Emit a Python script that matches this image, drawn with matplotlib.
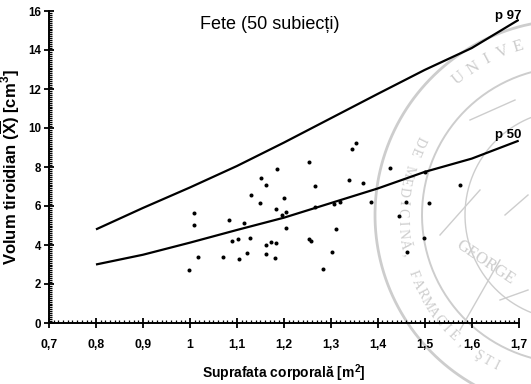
import numpy as np
import matplotlib
matplotlib.use("Agg")
from matplotlib import pyplot as plt
from matplotlib.ticker import MultipleLocator, FixedLocator

plt.rcParams["font.family"] = ["Liberation Sans", "DejaVu Sans"]
plt.rcParams["mathtext.fontset"] = "custom"
plt.rcParams["mathtext.rm"] = "Liberation Sans:bold"
plt.rcParams["mathtext.bf"] = "Liberation Sans:bold"
plt.rcParams["mathtext.it"] = "Liberation Sans:bold"

# reference percentile curves
bsa_ref = [0.8, 0.9, 1.0, 1.1, 1.2, 1.3, 1.4, 1.5, 1.6, 1.7]
p97 = [4.8, 5.9, 6.95, 8.05, 9.25, 10.5, 11.75, 12.98, 14.1, 15.55]
p50 = [3.0, 3.5, 4.12, 4.77, 5.4, 6.15, 6.9, 7.75, 8.43, 9.35]

# individual subjects (body surface area, thyroid volume)
bsa = [1.186, 1.254, 1.151, 1.163, 1.130, 1.200, 1.149, 1.009, 1.184, 1.204,
       1.197, 1.084, 1.115, 1.009, 1.204, 1.127, 1.089, 1.103, 1.172, 1.184,
       1.162, 1.121, 1.163, 1.018, 1.071, 1.104, 1.182, 0.998, 1.254, 1.258,
       1.354, 1.345, 1.426, 1.338, 1.369, 1.267, 1.500, 1.385, 1.459, 1.510,
       1.267, 1.306, 1.320, 1.446, 1.311, 1.499, 1.303, 1.462, 1.283, 1.574]
volume = [7.91, 8.24, 7.42, 7.08, 6.58, 6.39, 6.14, 5.66, 5.86, 5.71,
          5.54, 5.30, 5.13, 5.04, 4.86, 4.36, 4.22, 4.29, 4.15, 4.09,
          4.00, 3.59, 3.54, 3.37, 3.37, 3.30, 3.35, 2.73, 4.31, 4.20,
          9.25, 8.94, 7.93, 7.33, 7.16, 7.01, 7.76, 6.19, 6.19, 6.14,
          5.93, 6.10, 6.21, 5.49, 4.84, 4.34, 3.62, 3.64, 2.79, 7.09]

x_ticks = [0.7, 0.8, 0.9, 1.0, 1.1, 1.2, 1.3, 1.4, 1.5, 1.6, 1.7]
x_tick_labels = ["0,7", "0,8", "0,9", "1", "1,1", "1,2", "1,3", "1,4", "1,5", "1,6", "1,7"]
y_ticks = [0, 2, 4, 6, 8, 10, 12, 14, 16]

W, H = 531, 384
fig = plt.figure(figsize=(W / 100, H / 100), dpi=100)

# faint university seal watermark in the background (pixel coordinates)
wm = fig.add_axes([0, 0, 1, 1], zorder=0)
wm.set_xlim(0, W)
wm.set_ylim(H, 0)
wm.axis("off")
seal = "#cdcdcd"
cx, cy = 570, 215
t = np.linspace(0, 2 * np.pi, 400)
wm.plot(cx + 195 * np.sin(t), cy - 195 * np.cos(t), color=seal, lw=2.0)
wm.plot(cx + 148 * np.sin(t), cy - 148 * np.cos(t), color=seal, lw=1.4)
wm.plot(cx + 105 * np.sin(t), cy - 105 * np.cos(t), color=seal, lw=1.0)


def arc_text(text, a0, a1, r, size, bottom=False):
    for ch, a in zip(text, np.linspace(a0, a1, len(text))):
        ar = np.radians(a)
        rot = 180 - a if bottom else -a
        wm.text(cx + r * np.sin(ar), cy - r * np.cos(ar), ch, color=seal,
                fontsize=size, family="Liberation Serif", rotation=rot,
                ha="center", va="center")


arc_text("UNIVE", -39, -17, 176, 12)
arc_text("DE MEDICINĂ, FARMACIE, ŞTI", 296, 206, 168, 10, bottom=True)
wm.text(485, 262, "GEORGE", color=seal, fontsize=12, family="Liberation Serif",
        rotation=-34, ha="center", va="center")
for x0, y0, x1, y1 in [(470, 120, 515, 100), (440, 235, 480, 190), (460, 330, 500, 260),
                       (505, 215, 528, 195), (500, 300, 528, 290)]:
    wm.plot([x0, x1], [y0, y1], color=seal, lw=1.0)

ax = fig.add_axes([49 / W, 1 - 323 / H, (518.7 - 49) / W, (323 - 11) / H], zorder=1)
ax.patch.set_alpha(0)

ax.plot(bsa_ref, p97, color="black", lw=1.6, solid_capstyle="butt")
ax.plot(bsa_ref, p50, color="black", lw=1.6, solid_capstyle="butt")
ax.plot(bsa, volume, "o", color="black", ms=2.9, mew=0)

ax.set_xlim(0.7, 1.7)
ax.set_ylim(0, 16)
for side in ("top", "right"):
    ax.spines[side].set_visible(False)
for side in ("left", "bottom"):
    ax.spines[side].set_linewidth(1.4)

ax.xaxis.set_major_locator(FixedLocator(x_ticks))
ax.set_xticklabels(x_tick_labels)
ax.xaxis.set_minor_locator(MultipleLocator(0.01))
ax.yaxis.set_major_locator(FixedLocator(y_ticks))
ax.yaxis.set_minor_locator(MultipleLocator(0.1))
ax.tick_params(which="major", direction="inout", length=7, width=1.3, colors="black")
ax.tick_params(axis="x", which="major", pad=8, labelsize=8.8)
ax.tick_params(axis="y", which="major", pad=2, labelsize=8.3)
ax.tick_params(which="minor", direction="in", length=2.5, width=0.9)
for lab in ax.get_xticklabels() + ax.get_yticklabels():
    lab.set_fontweight("bold")

ax.set_xlabel(r"Suprafata corporală [m$^{\mathbf{2}}$]", fontsize=10,
              fontweight="bold", labelpad=8)
ax.set_ylabel(r"Volum tiroidian $(\overline{\mathbf{X}})$ [cm$^{\mathbf{3}}$]",
              fontsize=12, fontweight="bold")
ax.yaxis.set_label_coords(-0.057, 0.5)

ax.text(1.17, 15.3, "Fete (50 subiecți)", fontsize=13, ha="center", va="center")
ax.text(1.706, 15.74, "p 97", fontsize=9.5, fontweight="bold", ha="right",
        va="center", clip_on=False)
ax.text(1.706, 9.64, "p 50", fontsize=9.5, fontweight="bold", ha="right",
        va="center", clip_on=False)

fig.savefig("out.png", dpi=100)
